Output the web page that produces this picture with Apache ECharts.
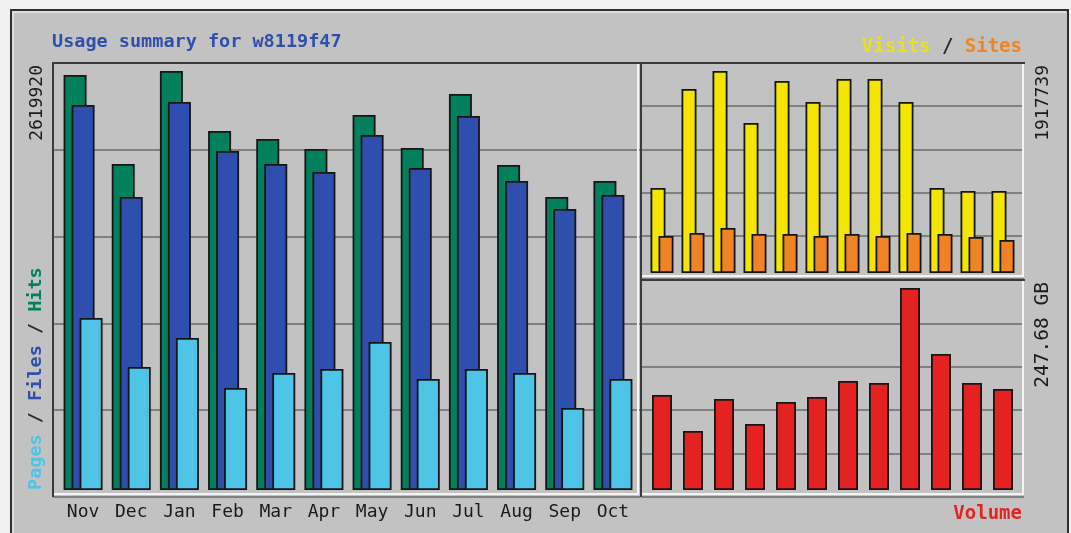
<!DOCTYPE html>
<html><head><meta charset="utf-8">
<script src="https://cdn.jsdelivr.net/npm/echarts@6/dist/echarts.min.js"></script>
<style>html,body{margin:0;padding:0;background:#f0f0f0;overflow:hidden}#c{width:1071px;height:533px}</style>
</head><body><div id="c"></div>
<script>
const months = ['Nov','Dec','Jan','Feb','Mar','Apr','May','Jun','Jul','Aug','Sep','Oct'];
const hits   = [2594900, 2038400, 2619920, 2244800, 2194700, 2132200, 2344800, 2138500, 2476100, 2032200, 1832100, 1932100];
const files  = [2407300, 1832100, 2426100, 2119700, 2038400, 1988400, 2219700, 2013400, 2338500, 1932100, 1757000, 1844600];
const pages  = [1075500, 769100, 950400, 637800, 731600, 756600, 925400, 694100, 756600, 731600, 512700, 694100];
const visits = [807000, 1746900, 1917739, 1424100, 1822800, 1623500, 1841800, 1841800, 1623500, 807000, 778500, 778500];
const sites  = [351300, 379800, 427200, 370300, 370300, 351300, 370300, 351300, 379800, 370300, 341800, 313300];
const volume = [116.5, 72.3, 111.6, 80.9, 107.9, 114.0, 133.6, 131.2, 247.68, 166.7, 131.2, 123.8];
const hitsMax = 2619920, visitsMax = 1917739, volumeMax = 247.68;
const hitsMaxLabel = '2619920', visitsMaxLabel = '1917739', volumeMaxLabel = '247.68 GB';
const titleText = 'Usage summary for w8119f47';

const MONO = '"DejaVu Sans Mono", "Liberation Mono", monospace';
const chart = echarts.init(document.getElementById('c'));
const border = {borderColor:'#161616', borderWidth:1.8};
const frameY = {type:'value', min:0, max:5, interval:1, axisLabel:{show:false}, axisLine:{show:false}, axisTick:{show:false},
  splitLine:{show:true, lineStyle:{color:'#6a6a6a', width:1.6}}};
const frameX = {type:'value', show:false, min:0, max:1};
const hiddenCat = {type:'category', data:months, axisLabel:{show:false}, axisLine:{show:false}, axisTick:{show:false}, splitLine:{show:false}};
function dataY(max){ return {type:'value', min:0, max:max, show:false, splitLine:{show:false}}; }

function frameLines(x1,y1,x2,y2){
  return [
    {type:'polyline', z:3, shape:{points:[[x1,y2],[x1,y1],[x2,y1]]}, style:{stroke:'#3a3a3a', lineWidth:2, fill:null}},
    {type:'polyline', z:3, shape:{points:[[x1+1,y2-3],[x2-2,y2-3],[x2-2,y1+1]]}, style:{stroke:'#f4f4f4', lineWidth:2, fill:null}}
  ];
}

const option = {
  animation:false,
  grid:[
    {left:53, top:63, width:587, height:434},
    {left:59, top:71, width:578, height:419},
    {left:641, top:63, width:383, height:216},
    {left:646.5, top:71, width:372, height:202},
    {left:641, top:280, width:383, height:217},
    {left:646.5, top:288, width:372, height:202}
  ],
  xAxis:[
    Object.assign({gridIndex:0}, frameX),
    {gridIndex:1, type:'category', data:months, axisLine:{show:false}, axisTick:{show:false},
      axisLabel:{margin:13, fontFamily:MONO, fontSize:18, color:'#1a1a1a'}},
    Object.assign({gridIndex:2}, frameX),
    Object.assign({gridIndex:3}, hiddenCat),
    Object.assign({gridIndex:4}, frameX),
    Object.assign({gridIndex:5}, hiddenCat)
  ],
  yAxis:[
    Object.assign({gridIndex:0}, frameY),
    Object.assign({gridIndex:1}, dataY(hitsMax)),
    Object.assign({gridIndex:2}, frameY),
    Object.assign({gridIndex:3}, dataY(visitsMax)),
    Object.assign({gridIndex:4}, frameY),
    Object.assign({gridIndex:5}, dataY(volumeMax))
  ],
  series:[
    {name:'Hits', type:'bar', xAxisIndex:1, yAxisIndex:1, data:hits, barWidth:23, barGap:'-65.2%', itemStyle:Object.assign({color:'#00805c'}, border)},
    {name:'Files', type:'bar', xAxisIndex:1, yAxisIndex:1, data:files, barWidth:23, barGap:'-65.2%', itemStyle:Object.assign({color:'#2f4fae'}, border)},
    {name:'Pages', type:'bar', xAxisIndex:1, yAxisIndex:1, data:pages, barWidth:23, barGap:'-65.2%', itemStyle:Object.assign({color:'#4ec4e6'}, border)},
    {name:'Visits', type:'bar', xAxisIndex:3, yAxisIndex:3, data:visits, barWidth:15, barGap:'-46.7%', itemStyle:Object.assign({color:'#f4e600'}, border)},
    {name:'Sites', type:'bar', xAxisIndex:3, yAxisIndex:3, data:sites, barWidth:15, barGap:'-46.7%', itemStyle:Object.assign({color:'#f08424'}, border)},
    {name:'Volume', type:'bar', xAxisIndex:5, yAxisIndex:5, data:volume, barWidth:20, itemStyle:Object.assign({color:'#e42222'}, border)}
  ],
  graphic:[
    {type:'rect', z:-10, shape:{x:11, y:10, width:1057, height:540}, style:{fill:'#c2c2c2', stroke:'#2e2e2e', lineWidth:2}},
    {type:'polyline', z:-9, shape:{points:[[13,545],[13,12],[1066,12]]}, style:{stroke:'#e6e6e6', lineWidth:1.5, fill:null}},
    ...frameLines(53,63,640,497),
    ...frameLines(641,63,1025,279),
    ...frameLines(641,280,1025,497),
    {type:'text', z:10, x:52, y:42, style:{text:titleText, font:'bold 18.5px ' + MONO, fill:'#2f4fae', align:'left', verticalAlign:'middle'}},
    {type:'text', z:10, x:1022, y:47, style:{text:'{v|Visits}{s| / }{t|Sites}', align:'right', verticalAlign:'middle',
      rich:{v:{font:'bold 19px ' + MONO, fill:'#e8e020'}, s:{font:'bold 19px ' + MONO, fill:'#2a2a2a'}, t:{font:'bold 19px ' + MONO, fill:'#f08424'}}}},
    {type:'text', z:10, x:36, y:490, rotation:Math.PI/2, style:{text:'{p|Pages}{s| / }{f|Files}{s| / }{h|Hits}', align:'left', verticalAlign:'middle',
      rich:{p:{font:'bold 18.5px ' + MONO, fill:'#4ec4e6'}, s:{font:'bold 18.5px ' + MONO, fill:'#2a2a2a'}, f:{font:'bold 18.5px ' + MONO, fill:'#2f4fae'}, h:{font:'bold 18.5px ' + MONO, fill:'#00805c'}}}},
    {type:'text', z:10, x:37, y:65, rotation:Math.PI/2, style:{text:hitsMaxLabel, font:'18px ' + MONO, fill:'#1a1a1a', align:'right', verticalAlign:'middle'}},
    {type:'text', z:10, x:1043, y:65, rotation:Math.PI/2, style:{text:visitsMaxLabel, font:'18px ' + MONO, fill:'#1a1a1a', align:'right', verticalAlign:'middle'}},
    {type:'text', z:10, x:1043, y:282, rotation:Math.PI/2, style:{text:volumeMaxLabel, font:'19.5px ' + MONO, fill:'#1a1a1a', align:'right', verticalAlign:'middle'}},
    {type:'text', z:10, x:1022, y:514, style:{text:'Volume', font:'bold 19px ' + MONO, fill:'#e42222', align:'right', verticalAlign:'middle'}}
  ]
};
chart.setOption(option);
</script></body></html>
